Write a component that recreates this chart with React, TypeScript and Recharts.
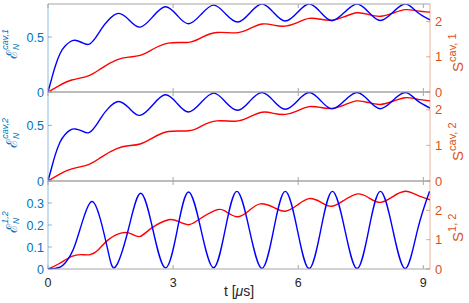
import React from 'react';
import { LineChart, Line, XAxis, YAxis } from 'recharts';

// ---------- data ----------
const xTicks = [0, 3, 6, 9];
const X_MAX = 9.16;

// panel 1
const tE1 = [0, 0.09, 0.17, 0.29, 0.41, 0.53, 0.65, 0.81, 0.97, 1.13, 1.29, 1.45, 1.69, 1.95, 2.21, 2.51, 2.81, 3.09, 3.37, 3.67, 3.97, 4.25, 4.55, 4.84, 5.13, 5.41, 5.69, 5.98, 6.26, 6.54, 6.81, 7.11, 7.41, 7.69, 7.97, 8.27, 8.57, 8.85, 9.16];
const e1 = [0, 0.124, 0.23, 0.35, 0.418, 0.457, 0.47, 0.45, 0.433, 0.488, 0.579, 0.655, 0.715, 0.653, 0.59, 0.683, 0.775, 0.7, 0.62, 0.705, 0.79, 0.713, 0.636, 0.718, 0.8, 0.722, 0.645, 0.722, 0.8, 0.724, 0.648, 0.724, 0.8, 0.725, 0.65, 0.725, 0.8, 0.728, 0.656];
const tS1 = [0, 0.25, 0.57, 0.97, 1.29, 1.65, 1.93, 2.21, 2.49, 2.89, 3.37, 3.69, 4.05, 4.49, 4.8, 5.13, 5.41, 5.69, 5.98, 6.26, 6.54, 6.81, 7.11, 7.41, 7.69, 7.97, 8.27, 8.57, 8.85, 9.16];
const s1 = [0, 0.17, 0.34, 0.46, 0.68, 0.91, 0.99, 1.04, 1.2, 1.39, 1.41, 1.55, 1.69, 1.68, 1.78, 1.93, 1.9, 1.87, 1.97, 2.09, 2.065, 2.04, 2.14, 2.25, 2.2, 2.15, 2.24, 2.34, 2.305, 2.27];

// panel 2
const tE2 = [0, 0.09, 0.17, 0.29, 0.41, 0.53, 0.65, 0.81, 0.97, 1.13, 1.29, 1.45, 1.69, 1.95, 2.21, 2.51, 2.81, 3.09, 3.37, 3.67, 3.97, 4.25, 4.55, 4.84, 5.13, 5.41, 5.69, 5.98, 6.26, 6.54, 6.81, 7.11, 7.41, 7.69, 7.97, 8.27, 8.57, 8.85, 9.16];
const e2 = [0, 0.124, 0.23, 0.35, 0.418, 0.457, 0.468, 0.45, 0.433, 0.488, 0.579, 0.655, 0.715, 0.653, 0.59, 0.683, 0.775, 0.7, 0.62, 0.705, 0.79, 0.713, 0.636, 0.718, 0.795, 0.72, 0.645, 0.72, 0.795, 0.722, 0.648, 0.722, 0.795, 0.723, 0.65, 0.724, 0.795, 0.725, 0.656];
const tS2 = [0, 0.25, 0.57, 0.97, 1.29, 1.65, 1.93, 2.21, 2.49, 2.89, 3.37, 3.69, 4.05, 4.49, 4.8, 5.13, 5.41, 5.69, 5.98, 6.26, 6.54, 6.81, 7.11, 7.41, 7.69, 7.97, 8.27, 8.57, 8.85, 9.16];
const s2 = [0, 0.17, 0.34, 0.46, 0.68, 0.91, 0.99, 1.04, 1.2, 1.39, 1.41, 1.55, 1.69, 1.68, 1.78, 1.93, 1.9, 1.87, 1.97, 2.09, 2.065, 2.04, 2.14, 2.25, 2.2, 2.15, 2.24, 2.34, 2.3, 2.25];

// panel 3
const tE3 = [0, 0.17, 0.29, 0.41, 0.53, 0.65, 0.85, 1.05, 1.25, 1.45, 1.62, 1.92, 2.22, 2.52, 2.82, 3.1, 3.37, 3.67, 3.97, 4.25, 4.53, 4.83, 5.13, 5.41, 5.69, 5.98, 6.26, 6.54, 6.82, 7.12, 7.41, 7.69, 7.97, 8.27, 8.57, 8.86, 9.15];
const e3 = [0, 0.003, 0.008, 0.027, 0.06, 0.11, 0.23, 0.307, 0.23, 0.073, 0.01, 0.175, 0.344, 0.175, 0.005, 0.178, 0.35, 0.178, 0.006, 0.18, 0.353, 0.178, 0.003, 0.178, 0.353, 0.177, 0.002, 0.177, 0.353, 0.177, 0.002, 0.177, 0.353, 0.177, 0.002, 0.177, 0.353];
const tS3 = [0, 0.25, 0.57, 0.81, 1.01, 1.21, 1.45, 1.77, 2.01, 2.21, 2.49, 2.89, 3.13, 3.37, 3.61, 4.01, 4.25, 4.53, 4.81, 5.09, 5.41, 5.69, 5.98, 6.26, 6.54, 6.81, 7.12, 7.43, 7.69, 7.97, 8.27, 8.57, 8.85, 9.16];
const s3 = [0, 0.17, 0.43, 0.49, 0.49, 0.66, 1.0, 1.23, 1.19, 1.11, 1.4, 1.68, 1.62, 1.51, 1.68, 2.0, 1.97, 1.78, 1.98, 2.22, 2.1, 1.97, 2.18, 2.4, 2.28, 2.14, 2.36, 2.56, 2.43, 2.27, 2.47, 2.65, 2.52, 2.36];

const eTicks12 = [0, 0.5];
const eTicks3 = [0, 0.1, 0.2, 0.3];
const sTicks = [0, 1, 2];

// ---------- style ----------
const W = 469;
const H = 303;
const PLOT_L = 48;
const PLOT_R = 430;
const BLUE = '#0000ff';
const RED = '#ff0000';
const AX_BLUE = '#0072BD';
const AX_ORANGE = '#D95319';
const GRAY = '#a6a6a6';
const TXT = '#262626';
const FONT = '"Liberation Sans", Arial, Helvetica, sans-serif';

const toPts = (ts: number[], vs: number[]) => ts.map((t, i) => ({ t, v: vs[i] }));

type PanelProps = {
  top: number;
  bottom: number;
  eData: { t: number; v: number }[];
  sData: { t: number; v: number }[];
  eDomain: [number, number];
  eTicks: number[];
  sDomain: [number, number];
  showXLabels: boolean;
};

function Panel({ top, bottom, eData, sData, eDomain, eTicks, sDomain, showXLabels }: PanelProps) {
  const bottomTick = (p: any) => {
    const x = p.x;
    return (
      <g>
        <line x1={x} x2={x} y1={bottom} y2={bottom - 4} stroke={GRAY} strokeWidth={1} />
        {showXLabels ? (
          <text x={x} y={bottom + 18} textAnchor="middle" fontSize={12.5} fontFamily={FONT} fill={TXT}>
            {p.payload.value}
          </text>
        ) : null}
      </g>
    );
  };
  const topTick = (p: any) => {
    const x = p.x;
    return <line x1={x} x2={x} y1={top} y2={top + 4} stroke={GRAY} strokeWidth={1} />;
  };
  const leftTick = (p: any) => {
    const y = p.y;
    return (
      <g>
        <line x1={PLOT_L} x2={PLOT_L + 4} y1={y} y2={y} stroke={AX_BLUE} strokeOpacity={0.5} />
        <text x={PLOT_L - 4} y={y + 4.5} textAnchor="end" fontSize={12.5} fontFamily={FONT} fill={AX_BLUE}>
          {String(p.payload.value)}
        </text>
      </g>
    );
  };
  const rightTick = (p: any) => {
    const y = p.y;
    return (
      <g>
        <line x1={PLOT_R} x2={PLOT_R - 4} y1={y} y2={y} stroke={AX_ORANGE} strokeOpacity={0.5} />
        <text x={PLOT_R + 5} y={y + 4.5} textAnchor="start" fontSize={13} fontFamily={FONT} fill={AX_ORANGE}>
          {String(p.payload.value)}
        </text>
      </g>
    );
  };
  return (
    <div style={{ position: 'absolute', left: 0, top: 0 }}>
      <LineChart width={W} height={H} margin={{ top: top - 1, bottom: H - bottom - 1, left: 0, right: 0 }}>
        <XAxis
          xAxisId="b"
          type="number"
          dataKey="t"
          domain={[0, X_MAX]}
          ticks={xTicks}
          interval={0}
          allowDataOverflow
          height={1}
          axisLine={{ stroke: GRAY, strokeWidth: 1.2 }}
          tickLine={false}
          tick={bottomTick}
        />
        <XAxis
          xAxisId="t"
          orientation="top"
          type="number"
          dataKey="t"
          domain={[0, X_MAX]}
          ticks={xTicks}
          interval={0}
          allowDataOverflow
          height={1}
          axisLine={{ stroke: GRAY, strokeWidth: 1.2 }}
          tickLine={false}
          tick={topTick}
        />
        <YAxis
          yAxisId="L"
          orientation="left"
          width={PLOT_L}
          type="number"
          domain={eDomain}
          ticks={eTicks}
          interval={0}
          allowDataOverflow
          axisLine={{ stroke: AX_BLUE, strokeOpacity: 0.45 }}
          tickLine={false}
          tick={leftTick}
        />
        <YAxis
          yAxisId="R"
          orientation="right"
          width={W - PLOT_R}
          type="number"
          domain={sDomain}
          ticks={sTicks}
          interval={0}
          allowDataOverflow
          axisLine={{ stroke: AX_ORANGE, strokeOpacity: 0.45 }}
          tickLine={false}
          tick={rightTick}
        />
        <Line
          xAxisId="b"
          yAxisId="R"
          data={sData}
          dataKey="v"
          type="natural"
          stroke={RED}
          strokeWidth={1.4}
          dot={false}
          activeDot={false}
          isAnimationActive={false}
        />
        <Line
          xAxisId="b"
          yAxisId="L"
          data={eData}
          dataKey="v"
          type="natural"
          stroke={BLUE}
          strokeWidth={1.4}
          dot={false}
          activeDot={false}
          isAnimationActive={false}
        />
      </LineChart>
    </div>
  );
}

function LeftLabel({ y0, sup }: { y0: number; sup: string }) {
  return (
    <text transform={`translate(17,${y0}) rotate(-90)`} fill={AX_BLUE} fontFamily={FONT}>
      <tspan fontSize={15} fontFamily='"DejaVu Serif", serif'>ℰ</tspan>
      <tspan fontSize={8.5} fontStyle="italic" dy={2}>N</tspan>
      <tspan fontSize={9} fontStyle="italic" dx={-6} dy={-11}>{sup}</tspan>
    </text>
  );
}

function RightLabel({ y0, sup }: { y0: number; sup: string }) {
  return (
    <text transform={`translate(463,${y0}) rotate(-90)`} fill={AX_ORANGE} fontFamily={FONT}>
      <tspan fontSize={15}>S</tspan>
      <tspan fontSize={11} dy={-7}>{sup}</tspan>
    </text>
  );
}

export default function App() {
  return (
    <div style={{ position: 'absolute', left: 0, top: 0, width: W, height: H, background: '#fff', overflow: 'hidden' }}>
      <Panel top={4} bottom={92} eData={toPts(tE1, e1)} sData={toPts(tS1, s1)} eDomain={[0, 0.8]} eTicks={eTicks12} sDomain={[0, 2.5]} showXLabels={false} />
      <Panel top={92} bottom={181} eData={toPts(tE2, e2)} sData={toPts(tS2, s2)} eDomain={[0, 0.8]} eTicks={eTicks12} sDomain={[0, 2.5]} showXLabels={false} />
      <Panel top={181} bottom={269} eData={toPts(tE3, e3)} sData={toPts(tS3, s3)} eDomain={[0, 0.4]} eTicks={eTicks3} sDomain={[0, 3]} showXLabels={true} />
      <svg width={W} height={H} style={{ position: 'absolute', left: 0, top: 0, pointerEvents: 'none' }}>
        <LeftLabel y0={59} sup="cav,1" />
        <LeftLabel y0={148} sup="cav,2" />
        <LeftLabel y0={233} sup="1,2" />
        <RightLabel y0={72} sup="cav, 1" />
        <RightLabel y0={161} sup="cav, 2" />
        <RightLabel y0={242} sup="1, 2" />
        <text x={239} y={296} textAnchor="middle" fontSize={14} fontFamily={FONT} fill={TXT}>
          t [<tspan fontStyle="italic">μ</tspan>s]
        </text>
      </svg>
    </div>
  );
}
